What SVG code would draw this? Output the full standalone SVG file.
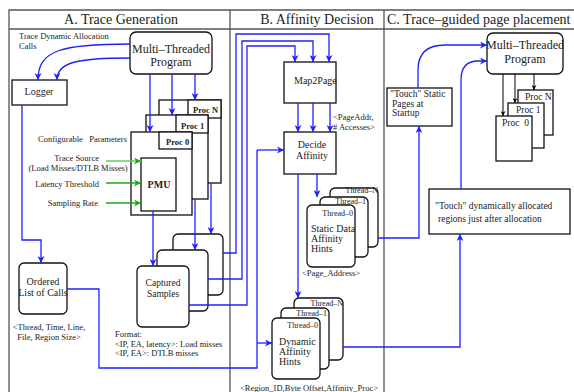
<svg xmlns="http://www.w3.org/2000/svg" width="574" height="392" viewBox="0 0 574 392">
<defs>
<marker id="ab" markerUnits="userSpaceOnUse" markerWidth="9" markerHeight="7" viewBox="0 0 10 10" refX="10" refY="5" orient="auto"><path d="M0,0 L10,5 L0,10 L3,5 z" fill="#1f1fff"/></marker>
<marker id="ag" markerUnits="userSpaceOnUse" markerWidth="9" markerHeight="7" viewBox="0 0 10 10" refX="10" refY="5" orient="auto"><path d="M0,0 L10,5 L0,10 L3,5 z" fill="#1aaa1a"/></marker>
<marker id="ak" markerUnits="userSpaceOnUse" markerWidth="6" markerHeight="5" viewBox="0 0 10 10" refX="10" refY="5" orient="auto"><path d="M0,0 L10,5 L0,10 L3,5 z" fill="#000"/></marker>
<style>
text{font-family:"Liberation Serif","Times New Roman",serif;fill:#222}
.frame{stroke:#555;stroke-width:1.3;fill:none}
.box{fill:#fff;stroke:#111;stroke-width:1.3}
.bl{fill:none;stroke:#2020ff;stroke-width:1.3}
.ba{fill:none;stroke:#2020ff;stroke-width:1.3;marker-end:url(#ab)}
.ga{fill:none;stroke:#1aaa1a;stroke-width:1.3;marker-end:url(#ag)}
.ka{fill:none;stroke:#000;stroke-width:1;marker-end:url(#ak)}
.h{font-size:14px}
.t10{font-size:10px}
.t12{font-size:12px}
.s8{font-size:8.5px}
.s9{font-size:9.5px}
.th{font-size:8px}
.pb{font-size:8.5px;font-weight:bold}
.m{text-anchor:middle}
.e{text-anchor:end}
</style>
</defs>
<rect width="574" height="392" fill="#fff"/>
<g id="frame">
<path class="frame" d="M9,392 V10 H574 M9,29 H574 M230,10 V392 M384,10 V392"/>
<text class="h m" x="121" y="24">A. Trace Generation</text>
<text class="h m" x="317" y="24">B. Affinity Decision</text>
<text class="h" x="387" y="24">C. Trace–guided page placement</text>
</g>
<g id="labels">
<text class="s8" x="19" y="39">Trace Dynamic Allocation</text>
<text class="s8" x="19" y="49">Calls</text>
<text class="s8" x="38" y="142" xml:space="preserve">Configurable   Parameters</text>
<text class="s8 e" x="99" y="161">Trace Source</text>
<text class="s8 m" x="78" y="171">(Load Misses/DTLB Misses)</text>
<text class="s8 e" x="99" y="187">Latency Threshold</text>
<text class="s8 e" x="98" y="206">Sampling Rate</text>
<text class="s8 m" x="49" y="330">&lt;Thread, Time, Line,</text>
<text class="s8 m" x="49" y="340">File, Region Size&gt;</text>
<text class="s8" x="115" y="337">Format:</text>
<text class="s8" x="115" y="347">&lt;IP, EA, latency&gt;: Load misses</text>
<text class="s8" x="115" y="356">&lt;IP, EA&gt;: DTLB misses</text>
<text class="s8" x="333" y="120">&lt;PageAddr,</text>
<text class="s8" x="333" y="130"># Accesses&gt;</text>
<text class="s8 m" x="331" y="276">&lt;Page_Address&gt;</text>
<text class="s8 m" x="309" y="391">&lt;Region_ID,Byte Offset,Affinity_Proc&gt;</text>
</g>
<g id="mtpA">
<rect class="box" x="130" y="32" width="82" height="42" rx="6"/>
<text class="t12 m" x="171" y="53">Multi–Threaded</text>
<text class="t12 m" x="171" y="66">Program</text>
</g>
<g id="logger">
<rect class="box" x="12" y="80" width="55" height="25"/>
<text class="t10 m" x="39" y="95">Logger</text>
</g>
<g id="procN">
<rect class="box" x="159" y="100" width="62" height="83"/>
<rect class="box" x="188" y="100" width="33" height="18"/>
<text class="pb" x="193" y="113">Proc N</text>
</g>
<g id="proc1">
<rect class="box" x="146" y="115" width="62" height="84"/>
<rect class="box" x="176" y="115" width="32" height="18"/>
<text class="pb" x="181" y="129">Proc 1</text>
</g>
<g id="proc0">
<rect class="box" x="131" y="132" width="61" height="83"/>
<rect class="box" x="159" y="132" width="33" height="17"/>
<text class="pb" x="166" y="145">Proc 0</text>
</g>
<g id="pmu">
<rect class="box" x="141" y="158" width="35" height="53"/>
<text class="m" x="159" y="188" style="font-size:10px;font-weight:bold">PMU</text>
</g>
<g id="ordered">
<rect class="box" x="19" y="263" width="48" height="51" rx="5"/>
<text class="t10 m" x="43" y="285">Ordered</text>
<text class="t10 m" x="43" y="296">List of Calls</text>
</g>
<g id="captured">
<rect class="box" x="173" y="234" width="50" height="61" rx="5"/>
<rect class="box" x="157" y="250" width="51" height="61" rx="5"/>
<rect class="box" x="137" y="266" width="52" height="61" rx="5"/>
<text class="m" x="163" y="286" style="font-size:9.5px">Captured</text>
<text class="m" x="163" y="297" style="font-size:9.5px">Samples</text>
</g>
<g id="map2page">
<rect class="box" x="284" y="62" width="52" height="41"/>
<text class="t10" x="294" y="84">Map2Page</text>
</g>
<g id="decide">
<rect class="box" x="284" y="132" width="52" height="42"/>
<text class="t10 m" x="312" y="148">Decide</text>
<text class="t10 m" x="312" y="159">Affinity</text>
</g>
<g id="staticHints">
<rect class="box" x="330" y="188" width="48" height="59" rx="5"/>
<text class="th e" x="378" y="193">Thread–N</text>
<rect class="box" x="320" y="197" width="48" height="60" rx="5"/>
<text class="th e" x="366" y="204">Thread–1</text>
<rect class="box" x="307" y="205" width="48" height="62" rx="5"/>
<text class="th e" x="353" y="216">Thread–0</text>
<text class="t10" x="311" y="232">Static Data</text>
<text class="t10" x="311" y="242">Affinity</text>
<text class="t10" x="311" y="252">Hints</text>
</g>
<g id="dynamicHints">
<rect class="box" x="294" y="298" width="49" height="62" rx="5"/>
<text class="th e" x="343" y="306">Thread–N</text>
<rect class="box" x="281" y="308" width="48" height="61" rx="5"/>
<text class="th e" x="327" y="316">Thread–1</text>
<rect class="box" x="272" y="318" width="48" height="61" rx="5"/>
<text class="th e" x="318" y="328">Thread–0</text>
<text class="t10" x="279" y="345">Dynamic</text>
<text class="t10" x="279" y="355">Affinity</text>
<text class="t10" x="279" y="365">Hints</text>
</g>
<g id="touchStatic">
<rect class="box" x="387" y="88" width="65" height="38"/>
<text class="s9" x="390" y="97">"Touch" Static</text>
<text class="s9" x="392" y="107">Pages at</text>
<text class="s9" x="392" y="116">Startup</text>
</g>
<g id="touchDynamic">
<rect class="box" x="429" y="189" width="141" height="45"/>
<text class="s9" x="435" y="209">"Touch" dynamically allocated</text>
<text class="s9" x="438" y="222">regions just after allocation</text>
</g>
<g id="mtpC">
<rect class="box" x="487" y="33" width="76" height="41" rx="6"/>
<text class="t12 m" x="525" y="49">Multi–Threaded</text>
<text class="t12 m" x="525" y="63">Program</text>
</g>
<g id="procsC">
<rect class="box" x="518" y="90" width="35" height="45"/>
<text class="s9" x="525" y="100">Proc N</text>
<rect class="box" x="508" y="103" width="36" height="45"/>
<text class="s9" x="516" y="113">Proc 1</text>
<rect class="box" x="496" y="116" width="36" height="45"/>
<text class="s9" x="502" y="126" xml:space="preserve">Proc  0</text>
</g>
<g id="connectors">
<path class="ba" d="M130,44 C62,44 38,50 38,80"/>
<path class="ba" d="M130,58 C78,58 57,62 57,80"/>
<path class="ba" d="M150,74 V132"/>
<path class="ba" d="M172,74 V115"/>
<path class="ba" d="M195,74 V100"/>
<path class="ga" d="M106,161 H141" style="stroke:#66cc66"/>
<path class="ga" d="M106,183 H141"/>
<path class="ga" d="M106,203 H141"/>
<path class="ba" d="M153,211 V266"/>
<path class="ba" d="M195,199 V250"/>
<path class="ba" d="M211,183 V234"/>
<path class="ba" d="M22,105 V240 H41 V263"/>
<path class="bl" d="M67,289 H99 V368 H257 V150"/>
<path class="ba" d="M257,150 H284"/>
<path class="ba" d="M257,343 H272"/>
<path class="ba" d="M223,253 H236 V34 H329 V62"/>
<path class="ba" d="M208,279 H242 V41 H313 V62"/>
<path class="ba" d="M189,305 H247 V46 H295 V62"/>
<path class="ba" d="M298,103 V132"/>
<path class="ba" d="M313,103 V132"/>
<path class="ba" d="M330,103 V132"/>
<path class="ba" d="M317,174 V197"/>
<path class="ba" d="M298,174 V298"/>
<path class="ba" d="M378,238 H419 V126"/>
<path class="ba" d="M343,347 H460 V234"/>
<path class="ba" d="M418,88 V70 C418,52 428,45 445,45 H487"/>
<path class="ba" d="M461,189 V80 C461,66 468,61 478,61 H487"/>
<path class="ka" d="M503,74 V116"/>
<path class="ka" d="M515,74 V103"/>
<path class="ka" d="M534,74 V90"/>
</g>
</svg>
